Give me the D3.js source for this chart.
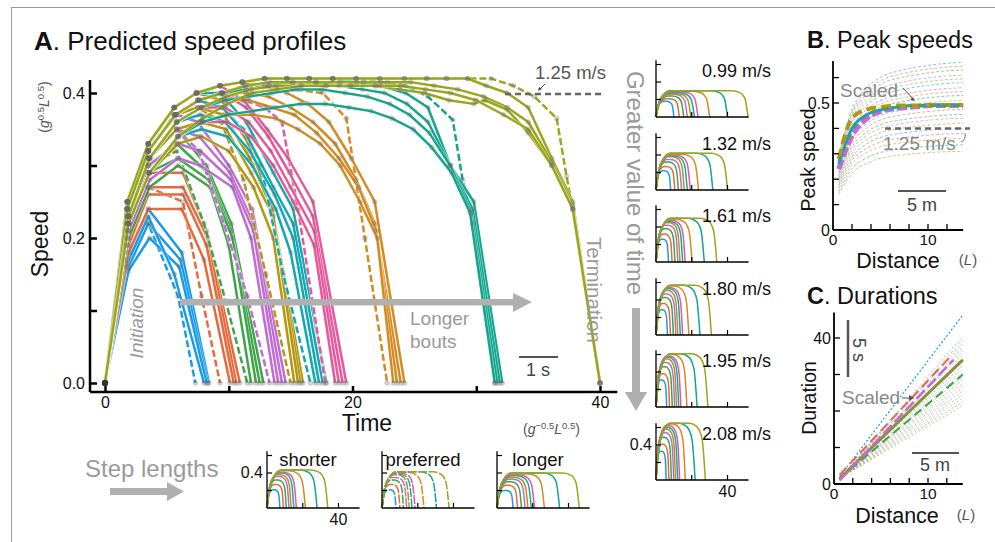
<!DOCTYPE html>
<html><head><meta charset="utf-8">
<script src="https://cdn.jsdelivr.net/npm/d3@7"></script>
<style>body{margin:0;background:#fff}svg text{font-family:Helvetica,"Liberation Sans",Arial,sans-serif}</style>
</head><body><svg id="c" width="995" height="542"></svg>
<script>
// ---------------- DATA ----------------
const boutColors = ["#1A9BEA","#E66A3C","#3FA54A","#C16BD4","#B59812","#13A9B2","#E9579A","#D38B22","#12A68F","#9AA61C"];

// Panel A: speed profiles [time, speed] per bout (solid variants + one dashed)
const blueSolid = [
 [[0,0],[1.8,0.17],[3.5,0.24],[6.2,0.18],[8.4,0]],
 [[0,0],[1.9,0.16],[3.5,0.22],[6.1,0.17],[8.3,0]],
 [[0,0],[1.9,0.155],[3.6,0.20],[6.0,0.16],[8.2,0]],
 [[0,0],[1.8,0.165],[3.5,0.23],[5.6,0.15],[8.0,0]]];
const blueDashed = [[0,0],[1.8,0.16],[3.5,0.22],[5.9,0.12],[7.3,0]];
const orangeSolid = [
 [[0,0],[1.8,0.21],[3.5,0.29],[6.3,0.29],[8.2,0.21],[10.9,0]],
 [[0,0],[1.8,0.2],[3.5,0.27],[6.3,0.27],[8.3,0.2],[10.6,0]],
 [[0,0],[1.9,0.19],[3.5,0.26],[6.3,0.26],[8.2,0.19],[10.4,0]],
 [[0,0],[1.9,0.18],[3.5,0.24],[6.2,0.24],[8.0,0.17],[10.1,0]]];
const orangeDashed = [[0,0],[1.8,0.19],[3.5,0.27],[6.3,0.25],[7.8,0.12],[9.3,0]];
const greenSolid = [
 [[0,0],[1.8,0.23],[3.5,0.31],[5.8,0.35],[8.2,0.30],[10.2,0.22],[12.8,0]],
 [[0,0],[1.8,0.22],[3.5,0.30],[5.8,0.33],[8.3,0.29],[10.2,0.21],[12.5,0]],
 [[0,0],[1.9,0.21],[3.5,0.29],[5.9,0.31],[8.4,0.28],[10.3,0.2],[12.2,0]],
 [[0,0],[1.9,0.2],[3.6,0.27],[5.9,0.30],[8.5,0.27],[10.0,0.19],[11.8,0]]];
const greenDashed = [[0,0],[1.8,0.22],[3.5,0.30],[5.8,0.32],[8.0,0.22],[9.8,0.11],[11.5,0]];
const purpleSolid = [
 [[0,0],[1.8,0.24],[3.5,0.32],[5.8,0.37],[7.5,0.36],[10.0,0.30],[11.9,0.24],[14.6,0]],
 [[0,0],[1.8,0.23],[3.5,0.31],[5.8,0.35],[7.6,0.34],[10.1,0.29],[12.0,0.22],[14.3,0]],
 [[0,0],[1.9,0.22],[3.5,0.30],[5.9,0.33],[7.7,0.32],[10.2,0.28],[12.0,0.21],[14.0,0]],
 [[0,0],[1.9,0.21],[3.6,0.28],[5.9,0.31],[7.7,0.30],[10.3,0.27],[11.8,0.2],[13.7,0]]];
const purpleDashed = [[0,0],[1.8,0.23],[3.5,0.31],[5.8,0.35],[7.6,0.32],[9.6,0.22],[11.5,0.12],[13.3,0]];
const goldSolid = [
 [[0,0],[1.8,0.25],[3.5,0.33],[5.6,0.38],[7.4,0.40],[9.4,0.39],[11.6,0.33],[13.4,0.25],[16.0,0]],
 [[0,0],[1.8,0.24],[3.5,0.32],[5.7,0.37],[7.5,0.38],[9.6,0.37],[11.7,0.31],[13.5,0.24],[15.8,0]],
 [[0,0],[1.9,0.23],[3.6,0.31],[5.8,0.35],[7.7,0.36],[9.8,0.35],[11.8,0.29],[13.6,0.23],[15.6,0]],
 [[0,0],[1.9,0.22],[3.6,0.29],[5.9,0.33],[7.8,0.34],[10.0,0.32],[12.0,0.27],[13.6,0.2],[15.3,0]]];
const goldDashed = [[0,0],[1.8,0.24],[3.5,0.32],[5.6,0.37],[7.5,0.38],[9.4,0.36],[11.2,0.28],[13.0,0.15],[15.0,0]];
const tealSolid = [
 [[0,0],[1.8,0.25],[3.5,0.33],[5.6,0.38],[7.4,0.40],[9.3,0.40],[11.4,0.36],[13.6,0.29],[15.2,0.24],[17.9,0]],
 [[0,0],[1.8,0.24],[3.5,0.32],[5.7,0.37],[7.5,0.39],[9.5,0.38],[11.5,0.34],[13.6,0.27],[15.2,0.22],[17.6,0]],
 [[0,0],[1.9,0.23],[3.6,0.31],[5.8,0.36],[7.7,0.37],[9.7,0.36],[11.7,0.32],[13.7,0.26],[15.2,0.2],[17.3,0]],
 [[0,0],[1.9,0.22],[3.6,0.29],[5.9,0.34],[7.8,0.35],[9.9,0.34],[11.9,0.30],[13.8,0.24],[15.0,0.18],[17.0,0]]];
const tealDashed = [[0,0],[1.8,0.24],[3.5,0.32],[5.6,0.37],[7.5,0.39],[9.4,0.38],[11.2,0.35],[12.6,0.30],[14.4,0.15],[16.6,0]];
const pinkSolid = [
 [[0,0],[1.8,0.25],[3.5,0.33],[5.6,0.38],[7.4,0.40],[9.3,0.41],[11.2,0.39],[13.1,0.35],[14.8,0.31],[16.8,0.25],[19.5,0]],
 [[0,0],[1.8,0.24],[3.5,0.32],[5.7,0.37],[7.6,0.39],[9.5,0.40],[11.4,0.38],[13.2,0.34],[14.9,0.29],[16.8,0.23],[19.2,0]],
 [[0,0],[1.9,0.23],[3.6,0.31],[5.8,0.36],[7.7,0.38],[9.7,0.38],[11.6,0.36],[13.4,0.32],[15.0,0.27],[16.9,0.21],[18.9,0]],
 [[0,0],[1.9,0.22],[3.6,0.29],[5.9,0.34],[7.9,0.36],[9.9,0.36],[11.8,0.34],[13.6,0.30],[15.2,0.25],[16.9,0.19],[18.6,0]]];
const pinkDashed = [[0,0],[1.8,0.24],[3.5,0.32],[5.6,0.37],[7.5,0.39],[9.4,0.40],[11.2,0.39],[12.9,0.38],[14.3,0.36],[15.6,0.24],[17.8,0]];
const brownSolid = [
 [[0,0],[1.8,0.25],[3.5,0.33],[5.6,0.38],[7.4,0.40],[9.3,0.41],[11.1,0.415],[12.9,0.41],[14.7,0.40],[16.4,0.385],[18.1,0.36],[19.9,0.31],[21.8,0.25],[24.2,0]],
 [[0,0],[1.8,0.24],[3.5,0.32],[5.7,0.37],[7.6,0.39],[9.5,0.40],[11.4,0.40],[13.2,0.395],[15.0,0.38],[16.8,0.36],[18.6,0.33],[20.3,0.28],[21.8,0.22],[23.9,0]],
 [[0,0],[1.9,0.23],[3.6,0.31],[5.8,0.36],[7.8,0.38],[9.7,0.39],[11.6,0.39],[13.5,0.38],[15.3,0.37],[17.1,0.345],[18.9,0.31],[20.5,0.27],[21.9,0.21],[23.6,0]],
 [[0,0],[1.9,0.22],[3.6,0.29],[5.9,0.34],[7.9,0.36],[9.9,0.37],[11.9,0.37],[13.8,0.365],[15.6,0.35],[17.4,0.33],[19.0,0.30],[20.6,0.25],[22.0,0.2],[23.3,0]]];
const brownDashed = [[0,0],[1.8,0.24],[3.5,0.32],[5.6,0.37],[7.5,0.39],[9.4,0.40],[11.3,0.41],[13.2,0.41],[15.2,0.405],[17.6,0.40],[19.5,0.365],[21.0,0.2],[22.8,0]];
const tealGreenSolid = [
 [[0,0],[1.8,0.25],[3.5,0.33],[5.6,0.38],[7.4,0.40],[9.3,0.41],[11.1,0.415],[12.9,0.42],[14.7,0.42],[16.5,0.42],[18.4,0.42],[20.3,0.415],[22.2,0.41],[24.3,0.40],[26.1,0.38],[27.9,0.30],[29.8,0.25],[32.1,0]],
 [[0,0],[1.8,0.24],[3.5,0.32],[5.7,0.37],[7.6,0.39],[9.5,0.40],[11.4,0.405],[13.2,0.41],[15.1,0.415],[17.0,0.415],[18.9,0.41],[20.8,0.405],[22.6,0.40],[24.4,0.385],[26.1,0.36],[27.9,0.30],[29.7,0.24],[31.9,0]],
 [[0,0],[1.9,0.23],[3.6,0.31],[5.8,0.36],[7.8,0.38],[9.7,0.39],[11.6,0.395],[13.5,0.40],[15.5,0.405],[17.5,0.405],[19.4,0.40],[21.2,0.395],[23.0,0.385],[24.6,0.37],[26.2,0.345],[27.9,0.30],[29.6,0.235],[31.7,0]],
 [[0,0],[1.9,0.22],[3.6,0.29],[5.9,0.34],[7.9,0.36],[9.9,0.37],[11.9,0.375],[13.8,0.38],[15.8,0.385],[17.8,0.385],[19.7,0.38],[21.5,0.375],[23.2,0.365],[24.9,0.35],[26.4,0.325],[28.0,0.29],[29.5,0.235],[31.5,0]]];
const tealGreenDashed = [[0,0],[1.8,0.25],[3.5,0.33],[5.6,0.38],[7.4,0.40],[9.3,0.41],[11.1,0.415],[12.9,0.42],[14.7,0.42],[16.5,0.42],[18.4,0.42],[20.3,0.42],[22.3,0.415],[24.3,0.41],[26.1,0.395],[28.1,0.363],[28.9,0.28],[29.7,0.22],[31.5,0]];
const oliveSolid = [
 [[0,0],[1.8,0.25],[3.5,0.33],[5.6,0.38],[7.4,0.40],[9.3,0.41],[11.1,0.415],[12.9,0.42],[14.7,0.42],[16.5,0.42],[18.4,0.42],[20.3,0.42],[22.2,0.42],[24.2,0.42],[26.0,0.42],[27.6,0.42],[29.3,0.42],[30.8,0.41],[32.5,0.40],[34.2,0.38],[36.1,0.31],[37.8,0.25],[40,0]],
 [[0,0],[1.8,0.24],[3.5,0.32],[5.7,0.37],[7.6,0.39],[9.5,0.40],[11.4,0.41],[13.3,0.415],[15.2,0.415],[17.1,0.415],[19.0,0.415],[20.9,0.415],[22.8,0.415],[24.7,0.415],[26.6,0.41],[28.5,0.405],[30.6,0.395],[32.5,0.38],[34.2,0.36],[36.1,0.305],[37.8,0.245],[40,0]],
 [[0,0],[1.9,0.23],[3.6,0.31],[5.8,0.36],[7.8,0.38],[9.8,0.395],[11.8,0.405],[13.8,0.41],[15.8,0.41],[17.8,0.41],[19.8,0.41],[21.8,0.41],[23.8,0.405],[25.8,0.40],[27.8,0.39],[29.8,0.385],[30.7,0.39],[32.5,0.377],[34.2,0.345],[36.1,0.30],[37.8,0.24],[40,0]],
 [[0,0],[1.9,0.22],[3.6,0.29],[5.9,0.34],[7.9,0.365],[9.9,0.385],[11.9,0.40],[13.9,0.405],[15.9,0.41],[17.9,0.41],[19.9,0.41],[21.9,0.41],[23.9,0.41],[25.9,0.405],[27.9,0.40],[30.0,0.39],[32.2,0.37],[34.2,0.35],[36.1,0.30],[37.8,0.24],[40,0]]];
const oliveDashed = [[0,0],[1.8,0.25],[3.5,0.33],[5.6,0.38],[7.4,0.40],[9.3,0.41],[11.1,0.415],[12.9,0.42],[14.7,0.42],[16.5,0.42],[18.4,0.42],[20.3,0.42],[22.2,0.42],[24.2,0.42],[26.0,0.42],[27.6,0.42],[29.3,0.42],[31.2,0.42],[33.0,0.41],[34.7,0.395],[36.5,0.365],[37.3,0.285],[37.8,0.24],[40,0]];

const boutSolid = [blueSolid, orangeSolid, greenSolid, purpleSolid, goldSolid, tealSolid, pinkSolid, brownSolid, tealGreenSolid, oliveSolid];
const boutDashed = [blueDashed, orangeDashed, greenDashed, purpleDashed, goldDashed, tealDashed, pinkDashed, brownDashed, tealGreenDashed, oliveDashed];
const mainYTicks = [0, 0.1, 0.2, 0.3, 0.4];
const mainYLabels = {0:"0.0", 0.2:"0.2", 0.4:"0.4"};
const mainXTicks = [0, 10, 20, 30, 40];
const mainXLabels = {0:"0", 20:"20", 40:"40"};

// Small multiples: bout end times and peak speeds
const speedLabels = ["0.99 m/s","1.32 m/s","1.61 m/s","1.80 m/s","1.95 m/s","2.08 m/s"];
const panelEnds = [
 [10,13,15.5,17.5,19.5,21.5,23.5,30,40,51.5],
 [8.2,10.5,12.5,14.3,15.8,17.5,19.2,23.8,31.8,40],
 [7,9,10.6,12.2,13.4,14.9,16.3,20.2,27,34],
 [6.4,8.1,9.7,11.1,12.2,13.6,14.9,18.4,24.6,31],
 [6,7.6,9.1,10.4,11.5,12.7,13.9,17.3,23,29],
 [5.7,7.2,8.6,9.9,10.9,12.1,13.2,16.4,21.9,27.6]];
const panelPeaks = [
 [0.18,0.21,0.24,0.26,0.27,0.28,0.29,0.295,0.30,0.30],
 [0.22,0.27,0.32,0.35,0.38,0.39,0.40,0.41,0.42,0.42],
 [0.26,0.32,0.38,0.42,0.45,0.46,0.475,0.49,0.50,0.50],
 [0.29,0.36,0.43,0.47,0.51,0.53,0.54,0.56,0.57,0.57],
 [0.31,0.38,0.46,0.51,0.55,0.57,0.58,0.60,0.61,0.61],
 [0.33,0.41,0.49,0.54,0.58,0.60,0.62,0.64,0.65,0.65]];
const stepLabels = ["shorter","preferred","longer"];
const stepEnds = [
 [7.2,9.2,10.8,12.3,13.5,15,16.4,21.5,28,34],
 [7.8,10,12,13.8,15.2,16.8,18.5,23.5,30.5,37.5],
 [9,11.5,13.7,15.7,17.3,19.2,21,26.5,35,46]];
const stepPeaks = [
 [0.21,0.27,0.32,0.36,0.38,0.40,0.41,0.425,0.435,0.435],
 [0.21,0.27,0.32,0.35,0.38,0.39,0.40,0.41,0.415,0.415],
 [0.2,0.26,0.3,0.33,0.35,0.37,0.38,0.39,0.40,0.40]];

// Panel B: peak speed vs distance
const bDist = [0.6,2.0,3.6,5.3,7.0,8.7,10.4,12.1,13.7];
const bGold = [0.28,0.44,0.475,0.485,0.49,0.49,0.492,0.492,0.492];
const bBlue = [0.26,0.40,0.455,0.475,0.485,0.49,0.49,0.49,0.49];
const bPurple = [0.24,0.37,0.44,0.47,0.48,0.485,0.49,0.49,0.49];
const bGreen = [0.27,0.39,0.455,0.475,0.485,0.49,0.49,0.49,0.49];
const bThinPlateaus = [0.66,0.645,0.63,0.61,0.595,0.58,0.56,0.545,0.53,0.51,0.495,0.475,0.455,0.44,0.42,0.40,0.38,0.36,0.335,0.31];
const bThinShape = [0.45,0.72,0.85,0.92,0.95,0.97,0.985,0.995,1.0];

// Panel C: duration vs distance
const cDist = [0.6, 13.7];
const cThinEnds = [40.5,39.5,38.5,37.5,36.5,35.5,34.5,33.5,32.5,31.5,30.5,29.5,28.5,27.5,26.5,25.5,24.5,23.5,22.5,21.5];
const cThinStart = 1.5;
const cBlue = [[0.6,2.0],[13.7,46.3]];
const cOrange = [[0.6,2.5],[12.6,35.5]];
const cPurple = [[0.6,1.0],[12.7,34]];
const cOlive = [[0.6,1.5],[13.7,34]];
const cGreen = [[0.6,1.5],[13.7,30]];

// ---------------- DRAW ----------------
const svg = d3.select("#c");
const GRAY = "#9a9a9a";

svg.append("line").attr("x1",11.5).attr("x2",11.5).attr("y1",7).attr("y2",542).attr("stroke","#999").attr("stroke-width",1);
svg.append("line").attr("x1",11).attr("x2",995).attr("y1",7.5).attr("y2",7.5).attr("stroke","#999").attr("stroke-width",1);

function txt(g, x, y, s, o={}) {
  const t = g.append("text").attr("x",x).attr("y",y).text(s)
    .attr("font-size", o.size||15).attr("fill", o.fill||"#111")
    .attr("text-anchor", o.anchor||"start");
  if (o.rot) t.attr("transform",`rotate(${o.rot},${x},${y})`);
  if (o.italic) t.attr("font-style","italic");
  if (o.weight) t.attr("font-weight",o.weight);
  return t;
}

// ===== Panel A =====
const x = d3.scaleLinear().domain([0,40]).range([105,600]);
const y = d3.scaleLinear().domain([0,0.4]).range([383,93]);
const gA = svg.append("g");

const yAx = gA.append("g").attr("transform","translate(90,0)")
  .call(d3.axisLeft(y).tickValues(mainYTicks).tickSize(-7).tickPadding(5).tickFormat(d => mainYLabels[d] || ""));
yAx.select(".domain").remove();
yAx.selectAll("line").attr("stroke-width",2.5);
yAx.selectAll("text").attr("font-size",16).attr("font-family",null).attr("fill","#111");
gA.append("line").attr("x1",90).attr("x2",90).attr("y1",y(0.418)).attr("y2",y(-0.0125)).attr("stroke","#000").attr("stroke-width",2.5);
const xAx = gA.append("g").attr("transform",`translate(0,${y(-0.0125)})`)
  .call(d3.axisBottom(x).tickValues(mainXTicks).tickSize(-6).tickPadding(5).tickFormat(d => mainXLabels[d] || ""));
xAx.select(".domain").remove();
xAx.selectAll("line").attr("stroke-width",2.5);
xAx.selectAll("text").attr("font-size",16).attr("font-family",null).attr("fill","#111");
gA.append("line").attr("x1",x(-1.2)).attr("x2",x(41.4)).attr("y1",y(-0.0125)).attr("y2",y(-0.0125)).attr("stroke","#000").attr("stroke-width",2.5);

const line = d3.line().x(d=>x(d[0])).y(d=>y(d[1]));
const gLines = gA.append("g");
function drawProfile(d, col, dash) {
  gLines.append("path").attr("d",line(d)).attr("fill","none").attr("stroke","#fff").attr("stroke-width",3.4).attr("stroke-opacity",0.7)
    .attr("stroke-linejoin","round");
  gLines.append("path").attr("d",line(d)).attr("fill","none").attr("stroke",col).attr("stroke-width",2.5)
    .attr("stroke-linejoin","round").attr("stroke-dasharray",dash?"7,3":null);
}
boutSolid.forEach((variants, i) => {
  const col = boutColors[i];
  drawProfile(boutDashed[i], col, true);
  variants.forEach(v => drawProfile(v, col, false));
});
const gDots = gA.append("g");
boutSolid.forEach((variants, i) => {
  variants.concat([boutDashed[i]]).forEach(v => {
    v.forEach(p => {
      gDots.append("circle").attr("cx",x(p[0])).attr("cy",y(p[1])).attr("r",2.8)
        .attr("fill","#666").attr("fill-opacity",0.3);
    });
  });
});
gDots.append("circle").attr("cx",x(0)).attr("cy",y(0)).attr("r",3.2).attr("fill","#333");

gA.append("rect").attr("x",180).attr("y",299).attr("width",333).attr("height",6.5).attr("fill","#b0b0b0");
gA.append("path").attr("d","M513,293 L532,302 L513,312 Z").attr("fill","#b0b0b0");
txt(gA,410,325,"Longer",{size:19,fill:GRAY});
txt(gA,410,348,"bouts",{size:19,fill:GRAY});
txt(gA,143,323,"Initiation",{size:19,fill:GRAY,rot:-90,anchor:"middle",italic:true});
txt(gA,587,290,"Termination",{size:20.5,fill:GRAY,rot:90,anchor:"middle"});
gA.append("line").attr("x1",519).attr("x2",558).attr("y1",357).attr("y2",357).attr("stroke","#555").attr("stroke-width",2);
txt(gA,538,376,"1 s",{size:18,fill:"#444",anchor:"middle"});
gA.append("line").attr("x1",505).attr("x2",601).attr("y1",94).attr("y2",94).attr("stroke","#666").attr("stroke-width",2.5).attr("stroke-dasharray","6,4");
txt(gA,535,79,"1.25 m/s",{size:18.5,fill:"#555"});
gA.append("path").attr("d","M545,84 L539,90").attr("stroke","#444").attr("stroke-width",1);
gA.append("path").attr("d","M538,91 l1,-4 l3,2 z").attr("fill","#444");

const tA = gA.append("text").attr("x",34).attr("y",50).attr("font-size",26).attr("fill","#111");
tA.append("tspan").attr("font-weight","bold").text("A");
tA.append("tspan").text(". Predicted speed profiles");
txt(gA,48,244,"Speed",{size:23,rot:-90,anchor:"middle"});
const uy = gA.append("text").attr("transform","translate(49,107) rotate(-90)").attr("text-anchor","middle").attr("font-size",14).attr("fill","#555");
uy.append("tspan").text("(");
uy.append("tspan").attr("font-style","italic").text("g");
uy.append("tspan").attr("font-size",9.5).attr("dy",-5).text("0.5");
uy.append("tspan").attr("font-style","italic").attr("dy",5).text("L");
uy.append("tspan").attr("font-size",9.5).attr("dy",-5).text("0.5");
uy.append("tspan").attr("dy",5).text(")");
txt(gA,367,431,"Time",{size:23,anchor:"middle"});
const ux = gA.append("text").attr("x",523).attr("y",434).attr("font-size",14).attr("fill","#555");
ux.append("tspan").text("(");
ux.append("tspan").attr("font-style","italic").text("g");
ux.append("tspan").attr("font-size",9.5).attr("dy",-5).text("\u22120.5");
ux.append("tspan").attr("font-style","italic").attr("dy",5).text("L");
ux.append("tspan").attr("font-size",9.5).attr("dy",-5).text("0.5");
ux.append("tspan").attr("dy",5).text(")");

// ===== small multiples =====
function profilePts(te, P) {
  const tr = Math.min(8, 0.42*te), tf = Math.min(9, 0.42*te);
  const pts = [[0,0],[0.22*tr,0.58*P],[0.5*tr,0.84*P],[tr,P]];
  if (te - tf > tr + 0.01) pts.push([te-tf, P]);
  pts.push([te-0.5*tf,0.93*P],[te-0.2*tf,0.72*P],[te,0]);
  return pts;
}
function smallPanel(x0, axisY, ends, peaks, o={}) {
  const g = svg.append("g");
  const sx = d3.scaleLinear().domain([0,40]).range([x0, x0+71.5]);
  const sy = d3.scaleLinear().domain([0,0.6]).range([axisY, axisY-52.5]);
  const l = d3.line().x(d=>sx(d[0])).y(d=>sy(d[1])).curve(d3.curveMonotoneX);
  ends.forEach((te,i) => {
    g.append("path").attr("d",l(profilePts(te,peaks[i]))).attr("fill","none")
      .attr("stroke",boutColors[i]).attr("stroke-width",1.5)
      .attr("stroke-dasharray",o.dash?"9,1.5":null);
  });
  g.append("line").attr("x1",x0).attr("x2",x0).attr("y1",axisY).attr("y2",sy(0.65)).attr("stroke","#000").attr("stroke-width",1.3);
  g.append("line").attr("x1",x0).attr("x2",sx(51.8)).attr("y1",axisY).attr("y2",axisY).attr("stroke","#000").attr("stroke-width",1.3);
  [0.2,0.4,0.6].forEach(v => g.append("line").attr("x1",x0).attr("x2",x0+5).attr("y1",sy(v)).attr("y2",sy(v)).attr("stroke","#000").attr("stroke-width",1.2));
  [20,40].forEach(v => g.append("line").attr("x1",sx(v)).attr("x2",sx(v)).attr("y1",axisY).attr("y2",axisY-5).attr("stroke","#000").attr("stroke-width",1.2));
  if (o.ylab) txt(g,x0-4,sy(0.4)+5,"0.4",{size:16,anchor:"end"});
  if (o.xlab) txt(g,sx(40),axisY+17,"40",{size:16,anchor:"middle"});
  return {g,sx,sy};
}
const panelAxisY = [117,190,262,335,407,480];
panelAxisY.forEach((ay,k) => {
  const p = smallPanel(656, ay, panelEnds[k], panelPeaks[k], {ylab:k===5, xlab:k===5});
  txt(p.g,771,ay-40,speedLabels[k],{size:18,anchor:"end"});
});
txt(svg,627,183,"Greater value of time",{size:24,fill:GRAY,rot:90,anchor:"middle"});
svg.append("rect").attr("x",632).attr("y",308).attr("width",8).attr("height",84).attr("fill","#b0b0b0");
svg.append("path").attr("d","M625,392 L647,392 L636,411 Z").attr("fill","#b0b0b0");

const stepX0 = [267,382,497];
stepX0.forEach((x0,k) => {
  const p = smallPanel(x0, 508, stepEnds[k], stepPeaks[k], {ylab:k===0, xlab:k===0, dash:k===1});
  txt(p.g,x0+41,466,stepLabels[k],{size:18.5,anchor:"middle"});
});
txt(svg,85,477,"Step lengths",{size:24,fill:GRAY});
svg.append("rect").attr("x",110).attr("y",488).attr("width",57).attr("height",7).attr("fill","#b0b0b0");
svg.append("path").attr("d","M167,482 L184,491.5 L167,501 Z").attr("fill","#b0b0b0");

// ===== Panel B =====
const gB = svg.append("g");
const bx = d3.scaleLinear().domain([0,10]).range([833,928]);
const by = d3.scaleLinear().domain([0,0.5]).range([230,103]);
const bl = d3.line().x((d,i)=>bx(bDist[i])).y(d=>by(d)).curve(d3.curveMonotoneX);
bThinPlateaus.forEach((p,i) => {
  gB.append("path").attr("d",bl(bThinShape.map(s=>s*p))).attr("fill","none")
    .attr("stroke",boutColors[i%10]).attr("stroke-opacity",0.55).attr("stroke-width",1).attr("stroke-dasharray","3,2");
});
gB.append("path").attr("d",bl(bPurple)).attr("fill","none").attr("stroke","#C16BD4").attr("stroke-width",5).attr("stroke-dasharray","10,3");
gB.append("path").attr("d",bl(bBlue)).attr("fill","none").attr("stroke","#1A9BEA").attr("stroke-width",3);
gB.append("path").attr("d",bl(bGold)).attr("fill","none").attr("stroke","#B59812").attr("stroke-width",4).attr("stroke-dasharray","10,5");
gB.append("path").attr("d",bl(bGreen)).attr("fill","none").attr("stroke","#3FA54A").attr("stroke-width",2.5).attr("stroke-dasharray","6,6");
gB.append("line").attr("x1",833).attr("x2",833).attr("y1",230).attr("y2",by(0.665)).attr("stroke","#000").attr("stroke-width",1.8);
gB.append("line").attr("x1",833).attr("x2",bx(13.7)).attr("y1",230).attr("y2",230).attr("stroke","#000").attr("stroke-width",1.8);
d3.range(1,7).forEach(k => gB.append("line").attr("x1",833).attr("x2",839).attr("y1",by(k/10)).attr("y2",by(k/10)).attr("stroke","#000").attr("stroke-width",1.3));
d3.range(1,7).forEach(k => gB.append("line").attr("x1",bx(2*k)).attr("x2",bx(2*k)).attr("y1",230).attr("y2",224).attr("stroke","#000").attr("stroke-width",1.3));
txt(gB,830,109,"0.5",{size:16,anchor:"end"});
txt(gB,830,236,"0",{size:16,anchor:"end"});
txt(gB,bx(0),245,"0",{size:15.5,anchor:"middle"});
txt(gB,bx(10),245,"10",{size:15.5,anchor:"middle"});
gB.append("line").attr("x1",885).attr("x2",970).attr("y1",by(0.4)).attr("y2",by(0.4)).attr("stroke","#666").attr("stroke-width",2.5).attr("stroke-dasharray","6,4");
txt(gB,883,150,"1.25 m/s",{size:19,fill:"#888"});
gB.append("path").attr("d","M961,142 q5,-2 4,-9").attr("fill","none").attr("stroke","#555").attr("stroke-width",0.8);
txt(gB,840,97,"Scaled",{size:19,fill:"#888"});
gB.append("path").attr("d","M903,88 L913,99").attr("stroke","#555").attr("stroke-width",1);
gB.append("path").attr("d","M915,101 l-5,-1 l3,-3 z").attr("fill","#555");
gB.append("line").attr("x1",898).attr("x2",946).attr("y1",191).attr("y2",191).attr("stroke","#555").attr("stroke-width",2);
txt(gB,922,211,"5 m",{size:18,fill:"#444",anchor:"middle"});
const tB = gB.append("text").attr("x",807).attr("y",48).attr("font-size",23.5).attr("fill","#111");
tB.append("tspan").attr("font-weight","bold").text("B");
tB.append("tspan").text(". Peak speeds");
txt(gB,815,160,"Peak speed",{size:19.5,rot:-90,anchor:"middle"});
txt(gB,898,268,"Distance",{size:21.5,anchor:"middle"});
const lB = gB.append("text").attr("x",968).attr("y",265).attr("font-size",15).attr("fill","#555").attr("text-anchor","middle");
lB.append("tspan").text("(");lB.append("tspan").attr("font-style","italic").text("L");lB.append("tspan").text(")");

// ===== Panel C =====
const gC = svg.append("g");
const cx = d3.scaleLinear().domain([0,10]).range([834,928]);
const cy = d3.scaleLinear().domain([0,40]).range([484,338]);
const cl = d3.line().x(d=>cx(d[0])).y(d=>cy(d[1]));
cThinEnds.forEach((e,i) => {
  gC.append("path").attr("d",cl([[cDist[0],cThinStart],[cDist[1],e]])).attr("fill","none")
    .attr("stroke",boutColors[i%10]).attr("stroke-opacity",0.5).attr("stroke-width",1).attr("stroke-dasharray","2,2");
});
gC.append("path").attr("d",cl(cBlue)).attr("fill","none").attr("stroke","#1A9BEA").attr("stroke-width",1.2).attr("stroke-dasharray","2,2");
gC.append("path").attr("d",cl(cGreen)).attr("fill","none").attr("stroke","#3FA54A").attr("stroke-width",2).attr("stroke-dasharray","9,5");
gC.append("path").attr("d",cl(cOlive)).attr("fill","none").attr("stroke","#8E8E3A").attr("stroke-width",3);
gC.append("path").attr("d",cl(cPurple)).attr("fill","none").attr("stroke","#C16BD4").attr("stroke-width",2.5).attr("stroke-dasharray","12,4");
gC.append("path").attr("d",cl(cOrange)).attr("fill","none").attr("stroke","#E66A3C").attr("stroke-width",2).attr("stroke-dasharray","10,5");
gC.append("line").attr("x1",834).attr("x2",834).attr("y1",484).attr("y2",cy(47)).attr("stroke","#000").attr("stroke-width",1.8);
gC.append("line").attr("x1",834).attr("x2",cx(13.7)).attr("y1",484).attr("y2",484).attr("stroke","#000").attr("stroke-width",1.8);
[10,20,30,40].forEach(v => gC.append("line").attr("x1",834).attr("x2",840).attr("y1",cy(v)).attr("y2",cy(v)).attr("stroke","#000").attr("stroke-width",1.3));
d3.range(1,7).forEach(k => gC.append("line").attr("x1",cx(2*k)).attr("x2",cx(2*k)).attr("y1",484).attr("y2",478).attr("stroke","#000").attr("stroke-width",1.3));
txt(gC,831,344,"40",{size:16,anchor:"end"});
txt(gC,831,490,"0",{size:16,anchor:"end"});
txt(gC,cx(0),499,"0",{size:15.5,anchor:"middle"});
txt(gC,cx(10),499,"10",{size:15.5,anchor:"middle"});
gC.append("line").attr("x1",848).attr("x2",848).attr("y1",320).attr("y2",377).attr("stroke","#555").attr("stroke-width",2.5);
txt(gC,853,350,"5 s",{size:18,fill:"#444",rot:90,anchor:"middle"});
gC.append("line").attr("x1",912).attr("x2",959).attr("y1",453).attr("y2",453).attr("stroke","#555").attr("stroke-width",2);
txt(gC,935,471,"5 m",{size:18,fill:"#444",anchor:"middle"});
txt(gC,842,404,"Scaled",{size:19,fill:"#888"});
gC.append("path").attr("d","M902,398 L911,398").attr("stroke","#555").attr("stroke-width",1);
gC.append("path").attr("d","M914,398 l-5,-3 l0,6 z").attr("fill","#555");
const tC = gC.append("text").attr("x",807).attr("y",304).attr("font-size",23.5).attr("fill","#111");
tC.append("tspan").attr("font-weight","bold").text("C");
tC.append("tspan").text(". Durations");
txt(gC,816,398,"Duration",{size:19.5,rot:-90,anchor:"middle"});
txt(gC,897,523,"Distance",{size:21.5,anchor:"middle"});
const lC = gC.append("text").attr("x",966).attr("y",520).attr("font-size",15).attr("fill","#555").attr("text-anchor","middle");
lC.append("tspan").text("(");lC.append("tspan").attr("font-style","italic").text("L");lC.append("tspan").text(")");
</script></body></html>
